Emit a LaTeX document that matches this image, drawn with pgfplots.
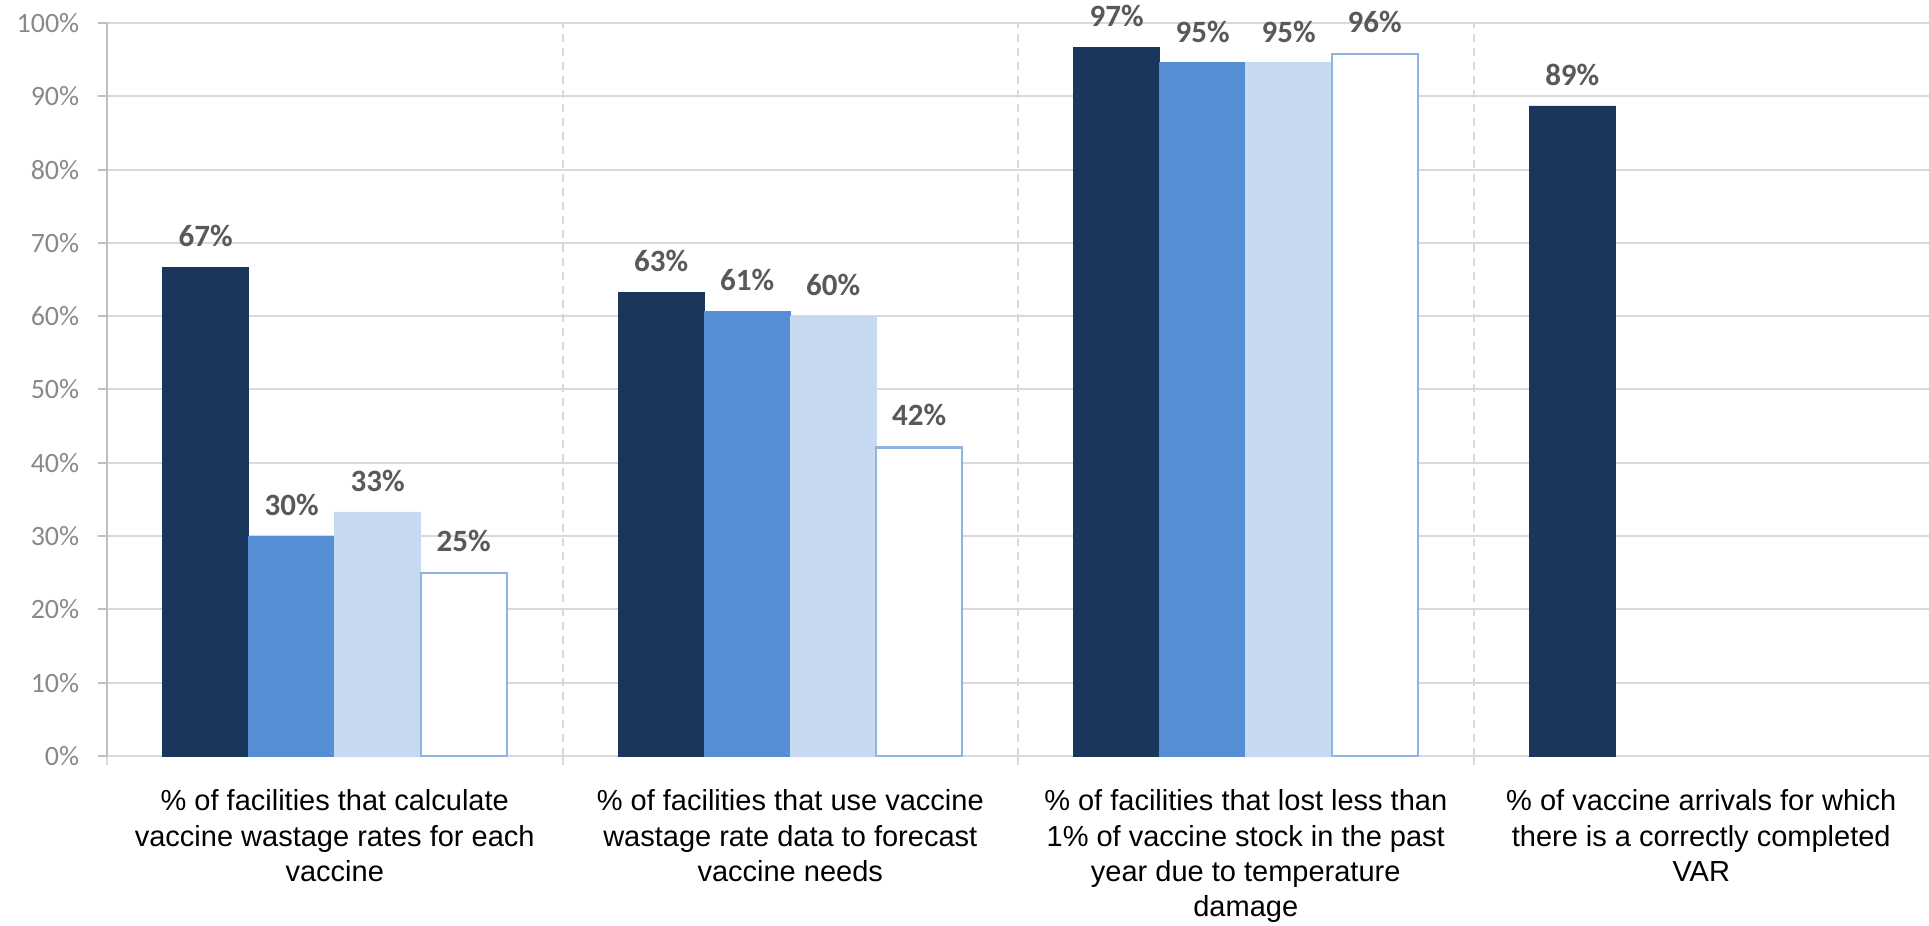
\documentclass[border=0pt]{standalone}
\usepackage{pgfplots}
\pgfplotsset{compat=1.18}
\usepackage{fontspec}
\setmainfont{Liberation Sans}
\newfontfamily\calibri{Carlito}
\definecolor{navy}{HTML}{1B365D}
\definecolor{midblue}{HTML}{558ED5}
\definecolor{lightblue}{HTML}{C6D9F0}
\definecolor{outline}{HTML}{8EB4E3}
\definecolor{gridgray}{HTML}{D9D9D9}
\definecolor{axisgray}{HTML}{BFBFBF}
\definecolor{ticktext}{HTML}{898989}
\definecolor{labeltext}{HTML}{595959}
\begin{document}
\begin{tikzpicture}
\begin{axis}[
  at={(53.5bp,85bp)}, anchor=south west,
  scale only axis, width=911bp, height=366.5bp,
  xmin=-0.5, xmax=3.5, ymin=0, ymax=100,
  axis x line*=bottom, axis y line*=left,
  x axis line style={gridgray, line width=1bp, -},
  y axis line style={axisgray, line width=1bp, -},
  ytick={0,10,...,100},
  yticklabels={0\%,10\%,20\%,30\%,40\%,50\%,60\%,70\%,80\%,90\%,100\%},
  yticklabel style={font=\calibri\fontsize{14bp}{16bp}\selectfont, text=ticktext, inner sep=0pt, xshift=-9.2bp},
  ymajorgrids, major grid style={gridgray, line width=1bp},
  ytick align=outside, major tick length=4.5bp, minor tick length=4.5bp,
  ytick style={axisgray, line width=1bp},
  xtick={0,1,2,3},
  xticklabels={
    {\% of facilities that calculate\\vaccine wastage rates for each\\vaccine},
    {\% of facilities that use vaccine\\wastage rate data to forecast\\vaccine needs},
    {\% of facilities that lost less than\\1\% of vaccine stock in the past\\year due to temperature\\damage},
    {\% of vaccine arrivals for which\\there is a correctly completed\\VAR}},
  xticklabel style={font=\fontsize{14.5bp}{17.6bp}\selectfont, align=center, text=black, anchor=north, inner sep=0pt, yshift=-12.2bp},
  major x tick style={draw=none},
  xtick align=outside,
  minor xtick={-0.5,0.5,1.5,2.5},
  minor x tick style={gridgray, line width=1bp},
  xminorgrids,
  minor x grid style={gridgray, line width=1bp, dash pattern=on 4bp off 3bp},
  ybar, bar width=0.1888,
  point meta=y,
  /pgf/number format/assume math mode=true,
  nodes near coords={\pgfmathprintnumber[fixed,precision=0]{\pgfplotspointmeta}\%},
  every node near coord/.append style={font=\calibri\bfseries\fontsize{15.5bp}{18bp}\selectfont, text=labeltext, anchor=south, inner sep=0pt, yshift=10bp},
  clip=false,
]
\addplot[fill=navy, draw=navy, line width=0.3bp, bar shift=-0.2832] coordinates {(0,66.7) (1,63.3) (2,96.7) (3,88.7)};
\addplot[fill=midblue, draw=midblue, line width=0.3bp, bar shift=-0.0944] coordinates {(0,30.0) (1,60.7) (2,94.6)};
\addplot[fill=lightblue, draw=lightblue, line width=0.3bp, bar shift=0.0944] coordinates {(0,33.3) (1,60.0) (2,94.6)};
\addplot[fill=white, draw=outline, line width=1.2bp, bar shift=0.2832] coordinates {(0,25.0) (1,42.1) (2,95.8)};
\end{axis}
\pgfresetboundingbox
\useasboundingbox (0,0) rectangle (964.5bp,463bp);
\end{tikzpicture}
\end{document}
